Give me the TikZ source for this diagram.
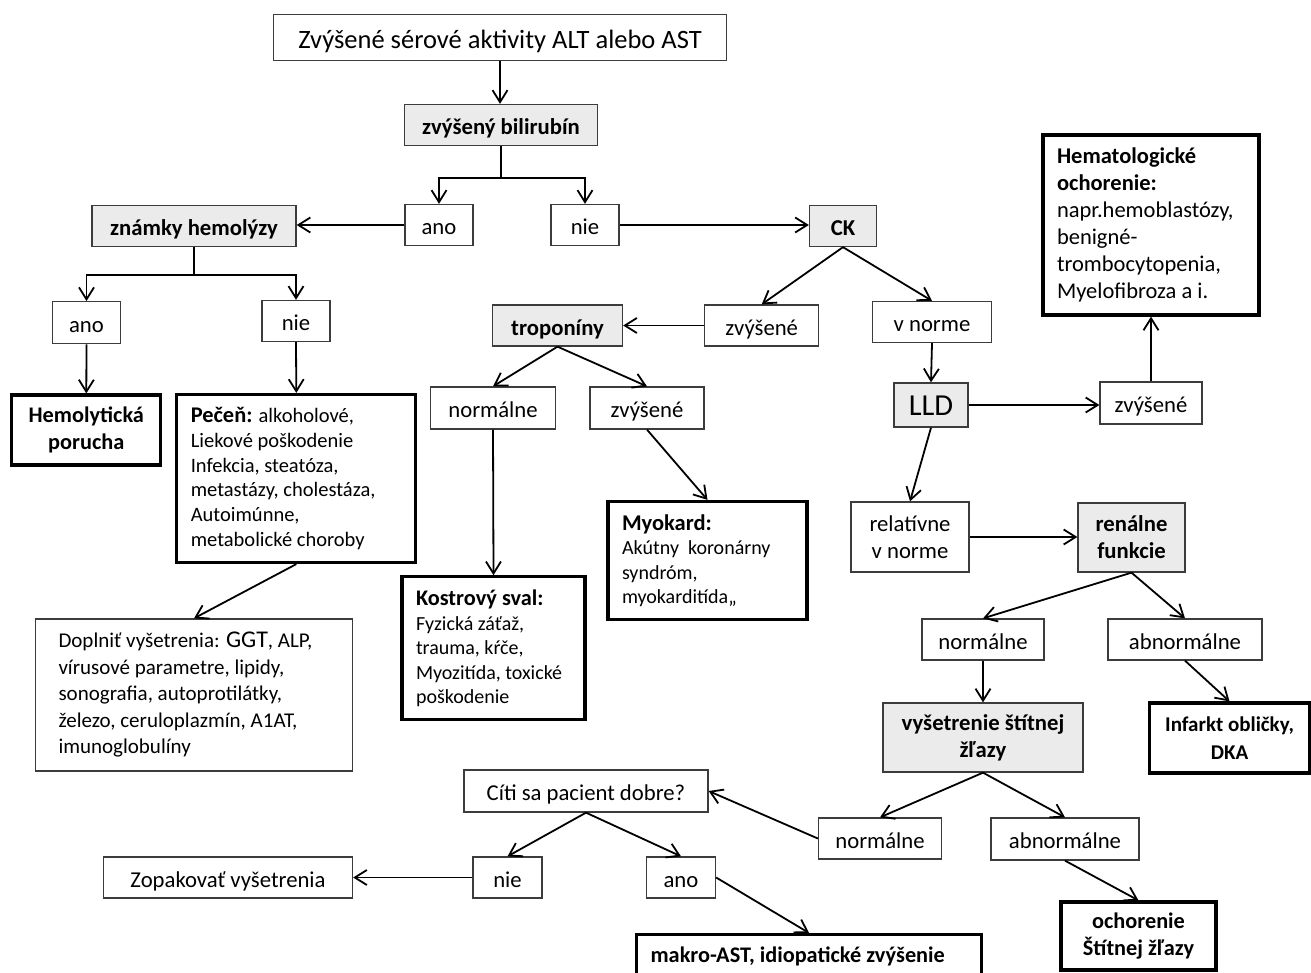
\documentclass[tikz,border=0pt]{standalone}
\usepackage{fontspec}
\setmainfont{Carlito}
\usetikzlibrary{arrows.meta}
\definecolor{BoxClr}{RGB}{60,60,60}
\definecolor{FillClr}{RGB}{235,235,235}

\begin{document}
\begin{tikzpicture}[x=1pt,y=-1pt,
  cell/.style={draw=BoxClr,line width=1.3pt,fill=white,inner sep=0pt,align=center,font=\fontsize{22.7}{27}\selectfont},
  box/.style={cell,text height=23pt,text depth=4pt},
  greybox/.style={box,fill=FillClr,font=\fontsize{22.7}{27}\selectfont\bfseries},
  twobox/.style={cell},
  greytwo/.style={cell,fill=FillClr,font=\fontsize{22.7}{27}\selectfont\bfseries},
  resultbox/.style={cell,draw=black,line width=3.2pt,font=\fontsize{22.3}{27.5}\selectfont\bfseries},
  textbox/.style={draw=BoxClr,line width=1.3pt,fill=white,inner xsep=14pt,inner ysep=0pt,align=flush left,font=\fontsize{20.5}{24.7}\selectfont},
  notebox/.style={textbox,draw=black,line width=3.2pt},
  link/.style={line width=1.8pt},
  arr/.style={link,-{Straight Barb[length=12pt,width=15pt]}}]
\clip (0,0) rectangle (1311,972);

\node[box,minimum width=453,minimum height=46,text height=28pt,text depth=6pt,font=\fontsize{26.5}{30}\selectfont] (top) at (500,37.8) {Zvýšené sérové aktivity ALT alebo AST};
\node[greybox,minimum width=193,minimum height=41] (bili) at (501,125) {zvýšený bilirubín};
\node[box,minimum width=68,minimum height=41] (ano1) at (439,225) {ano};
\node[box,minimum width=68,minimum height=41] (nie1) at (585,225) {nie};
\node[greybox,minimum width=204,minimum height=41] (hemol) at (194,226) {známky hemolýzy};
\node[greybox,minimum width=67,minimum height=41] (ck) at (843,226) {CK};

\node[box,minimum width=68,minimum height=42] (ano2) at (86.5,322.7) {ano};
\node[box,minimum width=68,minimum height=41] (nie2) at (296,321) {nie};
\node[resultbox,minimum width=149,minimum height=70] (hemolyt) at (86.3,430) {Hemolytická\\porucha};
\node[notebox,text width=211,minimum height=168] (pecen) at (296.3,478.5)
  {{\fontsize{22.4}{24.7}\selectfont\bfseries Pečeň:} alkoholové,\\Liekové poškodenie\\Infekcia, steatóza,\\metastázy, cholestáza,\\Autoimúnne,\\metabolické choroby};
\node[textbox,text width=271,inner xsep=23pt,minimum height=152,font=\fontsize{21}{26.5}\selectfont] (dopl) at (194,695)
  {Doplniť vyšetrenia: {\fontsize{24}{26.5}\selectfont GGT}, ALP,\\vírusové parametre, lipidy,\\sonografia, autoprotilátky,\\železo, ceruloplazmín, A1AT,\\imunoglobulíny};

\node[box,minimum width=114,minimum height=41] (zvys1) at (761.7,325.5) {zvýšené};
\node[box,minimum width=119,minimum height=41] (vnorme) at (932,322) {v norme};
\node[greybox,minimum width=130,minimum height=41] (tropo) at (557.5,325.5) {troponíny};
\node[box,minimum width=125,minimum height=42] (norm1) at (493,408) {normálne};
\node[box,minimum width=114,minimum height=42] (zvys2) at (647,408) {zvýšené};
\node[notebox,text width=155,minimum height=143,font=\fontsize{20}{24.5}\selectfont] (kostr) at (493.5,648.3)
  {{\fontsize{22.3}{25}\selectfont\bfseries Kostrový sval:}\\Fyzická záťaž,\\trauma, kŕče,\\Myozitída,\ toxické\\poškodenie};
\node[notebox,text width=171,minimum height=118,font=\fontsize{20}{24.5}\selectfont] (myok) at (707.5,560.5)
  {{\fontsize{22.5}{25}\selectfont\bfseries Myokard:}\\Akútny\ \ koronárny\\syndróm,\\myokarditída,,};

\node[greybox,minimum width=74,minimum height=44,text height=27pt,text depth=7pt,font=\fontsize{30.5}{34}\selectfont] (lld) at (931,405) {LLD};
\node[box,minimum width=102,minimum height=42] (zvys3) at (1151,403) {zvýšené};
\node[notebox,text width=188,minimum height=180,font=\fontsize{22.5}{27}\selectfont] (hemat) at (1151,225)
  {\textbf{Hematologické}\\\textbf{ochorenie:}\\napr.hemoblastózy,\\benigné-\\trombocytopenia,\\Myelofibroza a i.};
\node[twobox,minimum width=118,minimum height=70] (relnorm) at (910,537) {relatívne\\v norme};
\node[greytwo,minimum width=107,minimum height=69] (renal) at (1131.5,537.5) {renálne\\funkcie};
\node[box,minimum width=122,minimum height=41] (norm2) at (983,639.5) {normálne};
\node[box,minimum width=154,minimum height=41] (abnorm1) at (1185,639.5) {abnormálne};
\node[greytwo,minimum width=200,minimum height=69] (vysetr) at (983,737.5) {vyšetrenie štítnej\\žľazy};
\node[resultbox,minimum width=160,minimum height=70,font=\fontsize{21}{28}\selectfont\bfseries] (infarkt) at (1229.5,738) {Infarkt obličky,\\DKA};
\node[box,minimum width=123,minimum height=41] (norm3) at (880,838.5) {normálne};
\node[box,minimum width=148,minimum height=42] (abnorm2) at (1065,839) {abnormálne};
\node[resultbox,minimum width=155,minimum height=68] (ochor) at (1138.5,936) {ochorenie\\Štítnej žľazy};

\node[box,minimum width=244,minimum height=42] (citi) at (586,791) {Cíti sa pacient dobre?};
\node[box,minimum width=69,minimum height=41] (nie3) at (507.5,877.5) {nie};
\node[box,minimum width=69,minimum height=41] (ano3) at (681,877.5) {ano};
\node[box,minimum width=249,minimum height=41] (zopak) at (228,877.5) {Zopakovať vyšetrenia};
\node[notebox,anchor=north west,text width=317,inner ysep=14pt,text height=14pt,text depth=50pt,font=\fontsize{22.3}{25}\selectfont\bfseries] (makro) at (635,933)
  {makro-AST, idiopatické zvýšenie};

\draw[arr] (top.south) -- (top.south |- bili.north);
\draw[link] (bili.south) -- ++(0,32) coordinate (biliSplit);
\draw[arr] (biliSplit) -| (ano1.north);
\draw[arr] (biliSplit) -| (nie1.north);
\draw[arr] (ano1.west) -- (ano1.west -| hemol.east);
\draw[arr] (nie1.east) -- (nie1.east -| ck.west);

\draw[link] (hemol.south) -- ++(0,27.5) coordinate (hemolSplit);
\draw[arr] (hemolSplit) -| (ano2.north);
\draw[arr] (hemolSplit) -| (nie2.north);
\draw[arr] (ano2.south) -- (hemolyt.north);
\draw[arr] (nie2.south) -- (pecen.north);
\draw[arr] (pecen.south) -- (dopl.north);

\draw[arr] (ck.south) -- (zvys1.north);
\draw[arr] (ck.south) -- (vnorme.north);
\draw[arr] (zvys1.west) -- (zvys1.west -| tropo.east);
\draw[arr] (tropo.south) -- (norm1.north);
\draw[arr] (tropo.south) -- (zvys2.north);
\draw[arr] (norm1.south) -- (kostr.north);
\draw[arr] (zvys2.south) -- (myok.north);

\draw[arr] (vnorme.south) -- (lld.north);
\draw[arr] (lld.east) -- (lld.east -| zvys3.west);
\draw[arr] (zvys3.north) -- (hemat.south);
\draw[arr] (lld.south) -- (relnorm.north);
\draw[arr] (relnorm.east) -- (relnorm.east -| renal.west);
\draw[arr] (renal.south) -- (norm2.north);
\draw[arr] (renal.south) -- (abnorm1.north);
\draw[arr] (abnorm1.south) -- (infarkt.north);
\draw[arr] (norm2.south) -- (vysetr.north);
\draw[arr] (vysetr.south) -- (norm3.north);
\draw[arr] (vysetr.south) -- (abnorm2.north);
\draw[arr] (abnorm2.south) -- (ochor.north);

\draw[arr] (norm3.west) -- (citi.east);
\draw[arr] (citi.south) -- (nie3.north);
\draw[arr] (citi.south) -- (ano3.north);
\draw[arr] (nie3.west) -- (nie3.west -| zopak.east);
\draw[arr] (ano3.east) -- (makro.north);

\end{tikzpicture}
\end{document}
